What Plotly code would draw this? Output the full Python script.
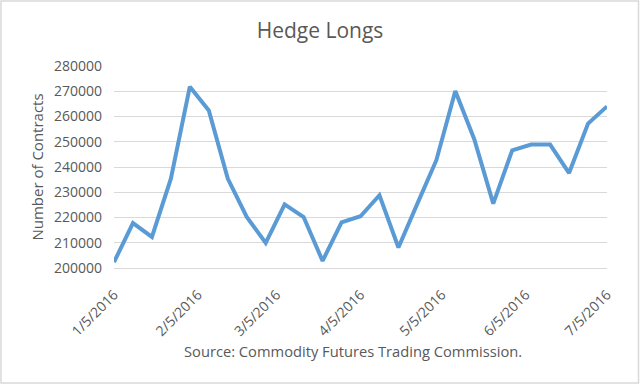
import plotly.graph_objects as go

dates = ["2016-01-05", "2016-01-12", "2016-01-19", "2016-01-26", "2016-02-02", "2016-02-09",
         "2016-02-16", "2016-02-23", "2016-03-01", "2016-03-08", "2016-03-15", "2016-03-22",
         "2016-03-29", "2016-04-05", "2016-04-12", "2016-04-19", "2016-04-26", "2016-05-03",
         "2016-05-10", "2016-05-17", "2016-05-24", "2016-05-31", "2016-06-07", "2016-06-14",
         "2016-06-21", "2016-06-28", "2016-07-05"]
hedge_longs = [202300, 217800, 212300, 235400, 271800, 262400,
               235400, 220200, 209900, 225200, 220200, 202800,
               218100, 220500, 228800, 208100, 225500, 242700,
               270100, 251000, 225500, 246600, 248900, 248900,
               237600, 257200, 264000]
tick_vals = ["2016-01-05", "2016-02-05", "2016-03-05", "2016-04-05", "2016-05-05", "2016-06-05", "2016-07-05"]
tick_text = ["1/5/2016", "2/5/2016", "3/5/2016", "4/5/2016", "5/5/2016", "6/5/2016", "7/5/2016"]
y_ticks = [200000, 210000, 220000, 230000, 240000, 250000, 260000, 270000, 280000]

FONT = "Open Sans"
GREY = "#595959"

fig = go.Figure()
fig.add_trace(go.Scatter(x=dates, y=hedge_longs, mode="lines",
                         line=dict(color="#5B9BD5", width=4), hoverinfo="x+y"))

L, R, T, B = 114, 33, 66, 117
W, H = 640, 385
pw, ph = W - L - R, H - T - B

fig.update_layout(
    width=W, height=H,
    margin=dict(l=L, r=R, t=T, b=B),
    paper_bgcolor="white", plot_bgcolor="white",
    showlegend=False,
    font=dict(family=FONT, color=GREY),
    title=dict(text="Hedge Longs", x=0.5, xanchor="center", y=1 - 31 / H, yanchor="middle",
               font=dict(size=21, family=FONT, color=GREY)),
    xaxis=dict(type="date", range=["2016-01-05", "2016-07-05"],
               tickmode="array", tickvals=tick_vals, ticktext=tick_text,
               tickangle=-45, tickfont=dict(size=14, color=GREY), ticklabelstandoff=12,
               showgrid=False, showline=True, linecolor="#D9D9D9", linewidth=1,
               ticks="", zeroline=False),
    yaxis=dict(range=[200000, 280000], tickmode="array", tickvals=y_ticks,
               tickformat="d", tickfont=dict(size=14, color=GREY), ticklabelstandoff=11,
               showgrid=True, gridcolor="#D9D9D9", gridwidth=1,
               showline=False, zeroline=False, ticks="",
               title=dict(text="Number of Contracts", font=dict(size=15, color=GREY), standoff=6)),
    annotations=[dict(text="Source: Commodity Futures Trading Commission.", xref="paper", yref="paper",
                      x=(353 - L) / pw, y=-(351 - (H - B)) / ph, xanchor="center", yanchor="middle",
                      showarrow=False, font=dict(size=14.7, color=GREY, family=FONT))],
    shapes=[dict(type="rect", xref="paper", yref="paper",
                 x0=-(L - 1) / pw, x1=1 + (R - 1.5) / pw,
                 y0=-(B - 2) / ph, y1=1 + (T - 1) / ph,
                 line=dict(color="#D9D9D9", width=1.5), layer="below")],
)

fig.write_html("out.html")
